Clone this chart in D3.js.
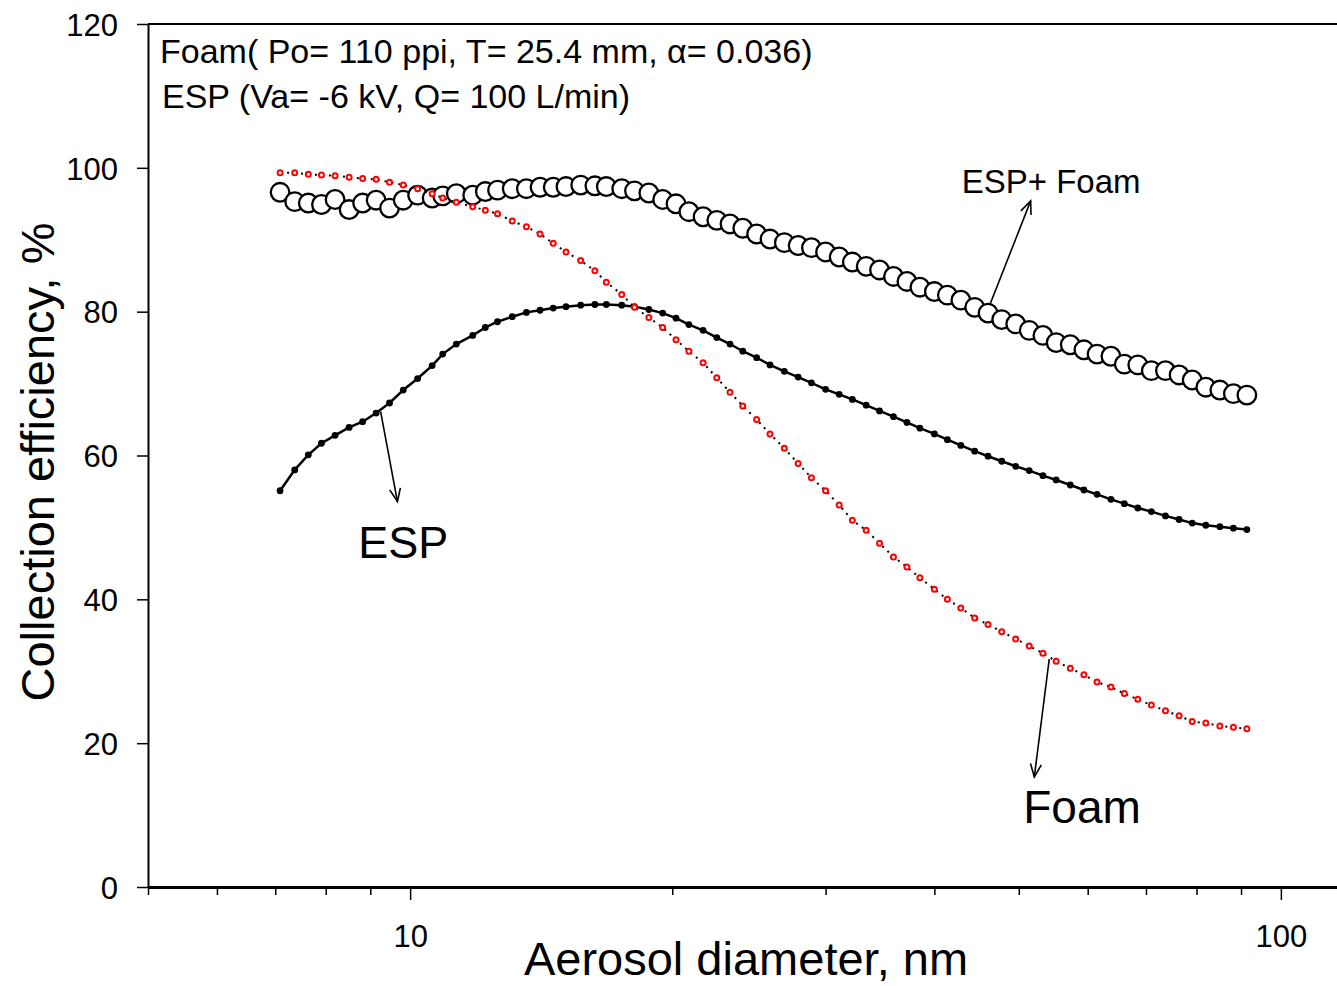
<!DOCTYPE html>
<html>
<head>
<meta charset="utf-8">
<script src="https://cdn.jsdelivr.net/npm/d3@7/dist/d3.min.js"></script>
<style>
  body { margin: 0; background: #fff; }
  svg { display: block; font-family: "Liberation Sans", Arial, sans-serif; }
</style>
</head>
<body>
<svg id="chart" width="1337" height="986"></svg>
<script>
// SMPS channel midpoints, nm
var diameters = [7.09, 7.37, 7.64, 7.91, 8.20, 8.51, 8.82, 9.14, 9.47, 9.82,
  10.2, 10.6, 10.9, 11.3, 11.8, 12.2, 12.6, 13.1, 13.6, 14.1,
  14.6, 15.1, 15.7, 16.3, 16.8, 17.5, 18.1, 18.8, 19.5, 20.2,
  20.9, 21.7, 22.5, 23.3, 24.1, 25.0, 25.9, 26.9, 27.9, 28.9,
  30.0, 31.1, 32.2, 33.4, 34.6, 35.9, 37.2, 38.5, 40.0, 41.4,
  42.9, 44.5, 46.1, 47.8, 49.6, 51.4, 53.3, 55.2, 57.3, 59.4,
  61.5, 63.8, 66.1, 68.5, 71.0, 73.7, 76.4, 79.1, 82.0, 85.1,
  88.2, 91.4];

var espFoam = [96.6, 95.3, 95.1, 94.9, 95.6, 94.2, 95.1, 95.5, 94.4, 95.5,
  96.2, 95.8, 96.1, 96.4, 96.2, 96.7, 96.9, 97.1, 97.1, 97.3,
  97.3, 97.4, 97.6, 97.5, 97.4, 97.1, 96.8, 96.5, 95.6, 95.0,
  93.9, 93.2, 92.7, 92.2, 91.6, 90.8, 90.1, 89.6, 89.2, 88.9,
  88.3, 87.6, 86.9, 86.3, 85.8, 84.9, 84.2, 83.4, 82.8, 82.3,
  81.6, 80.6, 79.8, 78.9, 78.3, 77.4, 76.7, 75.7, 75.4, 74.7,
  74.1, 73.8, 72.7, 72.6, 71.8, 71.8, 71.2, 70.5, 69.5, 69.1,
  68.6, 68.4];

var esp = [55.1, 58.0, 60.1, 61.7, 62.8, 63.9, 64.7, 65.9, 67.3, 69.1,
  70.7, 72.5, 74.1, 75.5, 76.7, 77.8, 78.6, 79.3, 79.9, 80.2,
  80.5, 80.7, 80.9, 81.0, 81.0, 80.9, 80.7, 80.3, 79.8, 79.1,
  78.2, 77.4, 76.4, 75.5, 74.5, 73.6, 72.6, 71.7, 70.9, 70.1,
  69.2, 68.5, 67.8, 67.0, 66.2, 65.4, 64.6, 63.8, 63.0, 62.2,
  61.4, 60.6, 59.9, 59.2, 58.5, 57.9, 57.2, 56.6, 55.9, 55.2,
  54.6, 53.9, 53.3, 52.7, 52.2, 51.6, 51.1, 50.6, 50.3, 50.1,
  49.9, 49.7];

var foam = [99.3, 99.3, 99.1, 99.0, 98.9, 98.7, 98.5, 98.4, 98.0, 97.6,
  97.1, 96.4, 95.8, 95.2, 94.6, 94.1, 93.6, 92.6, 91.8, 90.8,
  89.5, 88.3, 87.1, 85.7, 84.1, 82.4, 80.6, 79.2, 77.8, 76.1,
  74.5, 72.9, 70.8, 68.8, 66.9, 65.0, 63.0, 61.0, 58.9, 56.9,
  55.1, 53.1, 51.0, 49.6, 47.8, 45.9, 44.5, 43.0, 41.4, 40.0,
  38.8, 37.4, 36.5, 35.5, 34.5, 33.5, 32.5, 31.4, 30.4, 29.5,
  28.5, 27.8, 26.9, 26.1, 25.3, 24.5, 23.8, 23.0, 22.8, 22.4,
  22.2, 22.0];

var xTicks = [5, 6, 7, 8, 9, 10, 20, 30, 40, 50, 60, 70, 80, 90, 100];
var xMajor = [10, 100];
var yTicks = [0, 20, 40, 60, 80, 100, 120];

var headerLines = ['Foam( Po= 110 ppi, T= 25.4 mm, \u03b1= 0.036)', 'ESP (Va= -6 kV, Q= 100 L/min)'];

// annotation arrows in data units: [x0, y0, x1, y1] (arrowhead at x1,y1)
var arrows = [
  [46.3, 80.9, 51.6, 95.4],
  [9.25, 66.1, 9.67, 53.6],
  [54.2, 31.7, 52.1, 15.3]
];
var labels = [
  { text: 'ESP+ Foam', x: 43.0, y: 96.45, size: 33 },
  { text: 'ESP', x: 8.72, y: 45.7, size: 45 },
  { text: 'Foam', x: 50.6, y: 8.86, size: 46 }
];

var svg = d3.select('#chart');
var plotL = 148, plotR = 1337, plotT = 24, plotB = 887;

var x = d3.scaleLog().domain([5, 116]).range([plotL, plotR]);
var y = d3.scaleLinear().domain([0, 120]).range([plotB, plotT]);

svg.append('rect').attr('width', 1337).attr('height', 986).attr('fill', '#fff');

// frame top line
svg.append('line')
  .attr('x1', plotL).attr('x2', plotR).attr('y1', plotT).attr('y2', plotT)
  .attr('stroke', '#000').attr('stroke-width', 2);

// y axis
var yAxis = svg.append('g')
  .attr('transform', 'translate(' + plotL + ',0)')
  .call(d3.axisLeft(y).tickValues(yTicks).tickSize(11).tickSizeOuter(0));
yAxis.select('.domain').attr('stroke-width', 2);
yAxis.selectAll('.tick line').attr('stroke-width', 1.5);
yAxis.selectAll('.tick text')
  .attr('x', -30).attr('dy', '0.36em')
  .attr('font-size', 31).attr('font-family', '"Liberation Sans", Arial, sans-serif');

// x axis
var xAxis = svg.append('g')
  .attr('transform', 'translate(0,' + plotB + ')')
  .call(d3.axisBottom(x).tickValues(xTicks).tickSizeOuter(0)
    .tickFormat(function (d) { return xMajor.indexOf(d) >= 0 ? d : ''; }));
xAxis.select('.domain').attr('stroke-width', 3);
xAxis.selectAll('.tick line')
  .attr('stroke-width', 1.5)
  .attr('y2', function (d) { return xMajor.indexOf(d) >= 0 ? 13 : 8; });
xAxis.selectAll('.tick text')
  .attr('y', 60).attr('dy', null)
  .attr('font-size', 31).attr('font-family', '"Liberation Sans", Arial, sans-serif');

// axis titles
svg.append('text')
  .attr('x', 746).attr('y', 975)
  .attr('text-anchor', 'middle').attr('font-size', 47)
  .text('Aerosol diameter, nm');
svg.append('text')
  .attr('transform', 'translate(54,462) rotate(-90)')
  .attr('text-anchor', 'middle').attr('font-size', 47)
  .text('Collection efficiency, %');

// header
svg.selectAll('.header').data(headerLines).enter()
  .append('text')
  .attr('class', 'header')
  .attr('x', function (d, i) { return i === 0 ? 160 : 162; })
  .attr('y', function (d, i) { return 63 + i * 45; })
  .attr('font-size', 34)
  .text(function (d) { return d; });

var pts = function (vals) {
  return diameters.map(function (d, i) { return [d, vals[i]]; });
};
var line = d3.line().x(function (d) { return x(d[0]); }).y(function (d) { return y(d[1]); });

// ESP + Foam: big open circles
svg.append('path').datum(pts(espFoam))
  .attr('d', line).attr('fill', 'none').attr('stroke', '#000').attr('stroke-width', 1.5);
svg.append('g').selectAll('circle').data(pts(espFoam)).enter()
  .append('circle')
  .attr('cx', function (d) { return x(d[0]); })
  .attr('cy', function (d) { return y(d[1]); })
  .attr('r', 9.3)
  .attr('fill', '#fff').attr('stroke', '#000').attr('stroke-width', 2.3);

// ESP: solid line, small black dots
svg.append('path').datum(pts(esp))
  .attr('d', line).attr('fill', 'none').attr('stroke', '#000').attr('stroke-width', 2.5);
svg.append('g').selectAll('circle').data(pts(esp)).enter()
  .append('circle')
  .attr('cx', function (d) { return x(d[0]); })
  .attr('cy', function (d) { return y(d[1]); })
  .attr('r', 3.4).attr('fill', '#000');

// Foam: dotted line, red rings
svg.append('path').datum(pts(foam))
  .attr('d', line).attr('fill', 'none').attr('stroke', '#000')
  .attr('stroke-width', 2).attr('stroke-dasharray', '2,5');
svg.append('g').selectAll('circle').data(pts(foam)).enter()
  .append('circle')
  .attr('cx', function (d) { return x(d[0]); })
  .attr('cy', function (d) { return y(d[1]); })
  .attr('r', 2.5)
  .attr('fill', '#fff').attr('stroke', '#f00').attr('stroke-width', 2);

// annotation arrows
var arrowG = svg.append('g').attr('stroke', '#000').attr('stroke-width', 1.6).attr('fill', 'none');
arrows.forEach(function (a) {
  var x0 = x(a[0]), y0 = y(a[1]), x1 = x(a[2]), y1 = y(a[3]);
  var ang = Math.atan2(y1 - y0, x1 - x0), len = 14, spread = 0.4;
  arrowG.append('line').attr('x1', x0).attr('y1', y0).attr('x2', x1).attr('y2', y1);
  arrowG.append('path').attr('d',
    'M' + (x1 - len * Math.cos(ang - spread)) + ',' + (y1 - len * Math.sin(ang - spread)) +
    'L' + x1 + ',' + y1 +
    'L' + (x1 - len * Math.cos(ang + spread)) + ',' + (y1 - len * Math.sin(ang + spread)));
});

svg.selectAll('.lbl').data(labels).enter()
  .append('text')
  .attr('class', 'lbl')
  .attr('x', function (d) { return x(d.x); })
  .attr('y', function (d) { return y(d.y); })
  .attr('font-size', function (d) { return d.size; })
  .text(function (d) { return d.text; });
</script>
</body>
</html>
